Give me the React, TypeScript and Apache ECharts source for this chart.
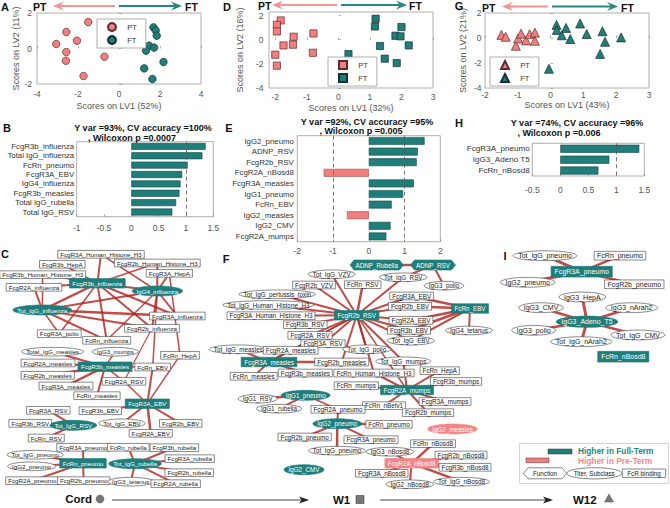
import React, { useEffect, useRef } from 'react';
import * as echarts from 'echarts';

const FONT = '"Liberation Sans", Arial, Helvetica, sans-serif';
const TEAL = '#1f7d7a';
const PINK = '#f27f7f';
const EDGE = '#b3231e';

// ---------- PLS-DA score data ----------
const aPT = [[-1.5, 1.49], [-2.57, 0.93], [-2.05, 0.44], [-3.06, 0.25], [-2.57, -0.2], [-2.59, -0.69], [-0.71, -0.46], [-1.73, -1.55]];
const aFT = [[1.68, 1.19], [1.79, 1.02], [1.84, 0.72], [1.47, 0.16], [1.32, -0.12], [1.71, 0.05], [2.17, -0.76], [1.23, -1.12], [1.63, -1.72]];
const dPT = [[-1.83, 1.6], [-1.95, 1.24], [-1.95, 0.69], [-1.42, 0.25], [-0.79, 0.52], [-1.74, -0.47], [-1.44, -0.41], [-2.0, -1.24], [-1.95, -2.15], [-0.81, -1.08]];
const dFT = [[1.18, 1.74], [1.16, 1.1], [2.0, 1.05], [1.81, 0.33], [1.97, 0.28], [2.23, -0.47], [1.32, -0.52], [0.32, -1.19], [1.47, -1.57], [1.85, -1.93]];
const gPT = [[-1.5, 0.25], [-1.37, 0.1], [-1.06, -0.62], [-0.99, -0.03], [-0.9, 0.35], [-0.75, -0.19], [-0.64, 0.3], [-0.48, 0.43], [-0.48, -0.22]];
const gFT = [[0.18, 1.05], [0.19, 0.65], [0.47, 0.81], [0.34, 0.22], [0.6, -0.08], [0.9, 1.16], [1.1, 0.32], [1.58, 0.54], [1.66, -0.3], [1.51, -1.27], [2.15, 0.05], [-0.05, -2.46]];

const aXTicks = [-4, -2, 0, 2, 4];
const aYTicks = [-2, 0, 2];
const dXTicks = [-2, -1, 0, 1, 2, 3];
const dYTicks = [-4, -2, 0, 2];
const gXTicks = [-2, -1, 0, 1, 2, 3];
const gYTicks = [-4, -2, 0, 2];

// ---------- VIP / loading bars ----------
const bLabels = ['FcgR3b_influenza', 'Total IgG_influenza', 'FcRn_pneumo', 'FcgR3A_EBV', 'IgG4_influenza', 'FcgR3b_measles', 'Total IgG_rubella', 'Total IgG_RSV'];
const bValues = [1.36, 1.3, 1.03, 0.93, 0.9, 0.88, 0.82, 0.75];
const eLabels = ['IgG2_pneumo', 'ADNP_RSV', 'FcgR2b_RSV', 'FcgR2A_nBosd8', 'FcgR3A_measles', 'IgG1_pneumo', 'FcRn_EBV', 'IgG2_measles', 'IgG2_CMV', 'FcgR2A_mumps'];
const eValues = [1.56, 1.37, 1.34, -1.26, 1.26, 0.96, 0.64, -0.61, 0.61, 0.49];
const hLabels = ['FcgR3A_pneumo', 'IgG3_Adeno T5', 'FcRn_nBosd8'];
const hValues = [1.41, 0.875, 0.68];
const refLines = [-1, 1];
const bTitle = ['Y var =93%, CV accuracy =100%', ', Wilcoxon p =0.0007'];
const eTitle = ['Y var =92%, CV accuracy =95%', ', Wilcoxon p =0.005'];
const hTitle = ['Y var =74%, CV accuracy =96%', ', Wilcoxon p =0.006'];

// ---------- co-correlation networks: [name, x, y, shape(r/e/h), fill(w/t/p)] ----------
const cNodes = [
  ['FcgR3A_Human_Histone_H3', 101, 254.3, 'r', 'w'], ['FcgR3b_HepA', 62.3, 264.3, 'r', 'w'],
  ['FcgR2b_Human_Histone_H3', 157.3, 263, 'r', 'w'], ['FcgR3b_Human_Histone_H3', 42.7, 274.7, 'r', 'w'],
  ['FcgR3A_HepA', 169.3, 273.3, 'r', 'w'], ['FcgR2A_influenza', 34, 287.3, 'r', 'w'],
  ['FcgR3b_influenza', 97.3, 283.3, 'r', 't'], ['IgG4_influenza', 157.3, 291, 'e', 't'],
  ['Tot_IgG_influenza', 42.3, 310, 'e', 't'], ['FcgR3A_influenza', 177.3, 316, 'r', 'w'],
  ['FcgR2b_influenza', 152, 328.3, 'r', 'w'], ['FcgR3A_polio', 59.3, 333.7, 'r', 'w'],
  ['FcRn_influenza', 106.7, 340.3, 'r', 'w'], ['Total_IgG_measles', 52.7, 351.7, 'e', 'w'],
  ['IgG3_mumps', 115.3, 351.7, 'e', 'w'], ['FcRn_HepA', 180, 355.3, 'r', 'w'],
  ['FcgR2A_measles', 48, 363, 'r', 'w'], ['FcgR3b_measles', 105, 366.7, 'r', 't'],
  ['FcRn_EBV', 152.7, 367, 'r', 'w'], ['FcgR2b_measles', 47.7, 375.3, 'r', 'w'],
  ['FcgR3A_measles', 66, 386, 'r', 'w'], ['FcgR2A_RSV', 124, 381.3, 'r', 'w'],
  ['FcRn_measles', 97, 395.7, 'r', 'w'], ['FcgR3A_EBV', 147.3, 403.7, 'r', 't'],
  ['FcgR3A_RSV', 48.3, 410.3, 'r', 'w'], ['FcgR3b_EBV', 100.3, 410.7, 'r', 'w'],
  ['FcgR3b_RSV', 30.3, 423.3, 'r', 'w'], ['Tot_IgG_RSV', 73.3, 425.3, 'e', 't'],
  ['Tot_IgG_EBV', 122, 423.3, 'e', 'w'], ['FcgR2b_EBV', 180.7, 423.3, 'r', 'w'],
  ['FcgR2A_EBV', 150.7, 433.3, 'r', 'w'], ['FcRn_RSV', 46.3, 438, 'r', 'w'],
  ['FcgR3A_pneumo', 83.3, 447.3, 'r', 'w'], ['FcRn_rubella', 128.3, 447.3, 'r', 'w'],
  ['FcgR3b_rubella', 174.3, 447.7, 'r', 'w'], ['Tot_IgG_pneumo', 35.3, 454.7, 'e', 'w'],
  ['FcgR3A_rubella', 189.7, 458.7, 'r', 'w'], ['IgG2_pneumo', 31.7, 466.3, 'e', 'w'],
  ['FcRn_pneumo', 83, 463.3, 'r', 't'], ['Tot_IgG_rubella', 135, 463.7, 'e', 't'],
  ['FcgR2b_rubella', 189.3, 472.7, 'r', 'w'], ['FcgR2A_pneumo', 32.3, 480.7, 'r', 'w'],
  ['FcgR2b_pneumo', 83.7, 480.7, 'r', 'w'], ['IgG3_tetanus', 130.7, 481.7, 'e', 'w'],
  ['FcgR2A_rubella', 175.7, 483.7, 'r', 'w'],
];
const cEdges = [
  ['FcgR3b_influenza', 'FcgR3A_Human_Histone_H3', 2], ['FcgR3b_influenza', 'FcgR3b_HepA', 1.8],
  ['FcgR3b_influenza', 'FcgR3b_Human_Histone_H3', 1.5], ['FcgR3b_influenza', 'FcgR2A_influenza', 2],
  ['FcgR3b_influenza', 'Tot_IgG_influenza', 2.5], ['FcgR3b_influenza', 'IgG4_influenza', 2],
  ['FcgR3b_influenza', 'FcgR3A_influenza', 2], ['FcgR3b_influenza', 'FcgR2b_influenza', 2],
  ['FcgR3b_influenza', 'FcRn_influenza', 2], ['FcgR3b_influenza', 'FcgR3A_polio', 1.5],
  ['FcgR3b_influenza', 'FcgR2b_Human_Histone_H3', 1.5], ['IgG4_influenza', 'FcgR2b_Human_Histone_H3', 2],
  ['IgG4_influenza', 'FcgR3A_HepA', 2], ['IgG4_influenza', 'FcgR3A_Human_Histone_H3', 1.5],
  ['IgG4_influenza', 'FcgR3A_influenza', 2], ['IgG4_influenza', 'FcgR2b_influenza', 2],
  ['IgG4_influenza', 'FcRn_influenza', 1.5], ['IgG4_influenza', 'Tot_IgG_influenza', 2],
  ['Tot_IgG_influenza', 'FcgR2A_influenza', 2], ['Tot_IgG_influenza', 'FcgR3A_influenza', 2.5],
  ['Tot_IgG_influenza', 'FcgR2b_influenza', 2], ['Tot_IgG_influenza', 'FcRn_influenza', 2],
  ['Tot_IgG_influenza', 'FcgR3A_polio', 1.5], ['Tot_IgG_influenza', 'FcgR3b_Human_Histone_H3', 1.5],
  ['FcgR3A_HepA', 'FcRn_HepA', 1.5], ['IgG4_influenza', 'FcRn_EBV', 1.5], ['FcgR2b_influenza', 'FcgR2A_RSV', 1.2],
  ['FcgR3b_measles', 'Total_IgG_measles', 2], ['FcgR3b_measles', 'IgG3_mumps', 1.5],
  ['FcgR3b_measles', 'FcgR2A_measles', 2], ['FcgR3b_measles', 'FcgR2b_measles', 2.5],
  ['FcgR3b_measles', 'FcgR3A_measles', 2.5], ['FcgR3b_measles', 'FcRn_measles', 2],
  ['FcgR3b_measles', 'FcgR2A_RSV', 1.5], ['FcgR3b_measles', 'FcRn_EBV', 1.5],
  ['FcgR3A_EBV', 'FcgR3b_EBV', 2], ['FcgR3A_EBV', 'Tot_IgG_EBV', 2], ['FcgR3A_EBV', 'FcgR2b_EBV', 2],
  ['FcgR3A_EBV', 'FcgR2A_EBV', 2.5], ['FcgR3A_EBV', 'FcgR2A_RSV', 1.5], ['FcgR3A_EBV', 'FcRn_EBV', 2],
  ['FcgR3A_EBV', 'FcRn_HepA', 1.5],
  ['Tot_IgG_RSV', 'FcgR3A_RSV', 2], ['Tot_IgG_RSV', 'FcgR3b_RSV', 2], ['Tot_IgG_RSV', 'FcRn_RSV', 2],
  ['FcRn_pneumo', 'FcgR3A_pneumo', 2], ['FcRn_pneumo', 'Tot_IgG_pneumo', 2], ['FcRn_pneumo', 'IgG2_pneumo', 2],
  ['FcRn_pneumo', 'FcgR2A_pneumo', 2], ['FcRn_pneumo', 'FcgR2b_pneumo', 2],
  ['Tot_IgG_rubella', 'FcRn_rubella', 2], ['Tot_IgG_rubella', 'FcgR3b_rubella', 2],
  ['Tot_IgG_rubella', 'FcgR3A_rubella', 2], ['Tot_IgG_rubella', 'FcgR2b_rubella', 2],
  ['Tot_IgG_rubella', 'FcgR2A_rubella', 2], ['Tot_IgG_rubella', 'IgG3_tetanus', 2],
];

const fNodes = [
  ['ADNP_Rubella', 376.7, 265, 'h', 't'], ['ADNP_RSV', 433, 265, 'h', 't'],
  ['Tot_IgG_VZV', 331.7, 274.3, 'e', 'w'], ['Tot_IgG_RSV', 403.3, 277.3, 'e', 'w'],
  ['IgG3_polio', 444, 285.7, 'e', 'w'], ['FcgR2b_VZV', 314, 285, 'r', 'w'],
  ['FcRn_RSV', 362.7, 284.7, 'r', 'w'], ['Tot_IgG_pertussis_toxin', 277.3, 294.3, 'e', 'w'],
  ['FcgR3A_EBV', 411.7, 296, 'r', 'w'], ['Tot_IgG_Human_Histone_H3', 268.3, 305, 'e', 'w'],
  ['FcgR2b_EBV', 410, 306.3, 'r', 'w'], ['FcRn_EBV', 470, 308.5, 'r', 't'],
  ['FcgR2b_RSV', 356.7, 315.3, 'r', 't'], ['FcgR3A_Human_Histone_H3', 271, 315.7, 'r', 'w'],
  ['FcgR2A_EBV', 411, 320.3, 'r', 'w'], ['FcgR3b_RSV', 305.3, 324.7, 'r', 'w'],
  ['FcgR3b_EBV', 409, 330.3, 'r', 'w'], ['IgG4_tetanus', 469, 330.5, 'e', 'w'],
  ['FcgR2A_RSV', 310, 335.3, 'r', 'w'], ['Tot_IgG_EBV', 410.7, 340.7, 'e', 'w'],
  ['FcgR3A_RSV', 323, 343.7, 'r', 'w'], ['Tot_IgG_measles', 238.3, 349.3, 'e', 'w'],
  ['FcgR2A_measles', 290.7, 350.3, 'r', 'w'], ['Tot_IgG_polio', 366.7, 349.3, 'e', 'w'],
  ['FcgR3A_measles', 269, 362, 'r', 't'], ['FcgR2b_measles', 341.7, 362, 'r', 'w'],
  ['Tot_IgG_mumps', 403.3, 361.3, 'e', 'w'], ['FcRn_measles', 253.7, 376.3, 'r', 'w'],
  ['FcgR3b_measles', 305.3, 373, 'r', 'w'], ['FcRn_Human_Histone_H3', 374, 373, 'r', 'w'],
  ['FcRn_HepA', 439.7, 370.7, 'r', 'w'], ['FcRn_mumps', 356.3, 385.7, 'r', 'w'],
  ['FcgR3b_mumps', 456, 381.5, 'r', 'w'], ['FcgR2A_mumps', 407, 390, 'r', 't'],
  ['IgG1_pneumo', 305.7, 395.3, 'e', 't'], ['IgG1_RSV', 257.7, 398.7, 'e', 'w'],
  ['FcgR3A_mumps', 445, 401.5, 'r', 'w'], ['FcRn_nBetv1', 384, 405.7, 'r', 'w'],
  ['IgG1_rubella', 279, 408.7, 'e', 'w'], ['FcgR2A_pneumo', 338, 409.3, 'r', 'w'],
  ['FcgR2b_mumps', 428, 412.7, 'r', 'w'], ['IgG2_pneumo', 337.3, 423.7, 'e', 't'],
  ['FcRn_pneumo', 389, 424.3, 'r', 'w'], ['IgG2_measles', 452.5, 429, 'e', 'p'],
  ['FcgR2b_pneumo', 304.7, 437, 'r', 'w'], ['FcgR3A_pneumo', 371, 439.7, 'r', 'w'],
  ['FcRn_nBosd8', 433, 443.7, 'r', 'w'], ['Tot_IgG_pneumo', 337, 450.7, 'e', 'w'],
  ['IgG3_nBosd8', 390, 451.7, 'e', 'w'], ['FcgR2b_nBosd8', 461, 455, 'r', 'w'],
  ['FcgR2A_nBosd8', 411.7, 463.3, 'r', 'p'], ['FcgR3b_nBosd8', 465, 467.3, 'r', 'w'],
  ['IgG2_CMV', 304, 469.7, 'e', 't'], ['FcgR3A_nBosd8', 381.7, 473.3, 'r', 'w'],
  ['Tot_IgG_nBosd8', 461.5, 481.7, 'e', 'w'], ['IgG2_nBosd8', 409.7, 484.3, 'e', 'w'],
];
const fEdges = [
  ['ADNP_Rubella', 'ADNP_RSV', 2.5], ['ADNP_RSV', 'IgG3_polio', 2], ['ADNP_RSV', 'Tot_IgG_RSV', 2],
  ['FcgR2b_RSV', 'Tot_IgG_VZV', 2], ['FcgR2b_RSV', 'FcgR2b_VZV', 2], ['FcgR2b_RSV', 'FcRn_RSV', 2.5],
  ['FcgR2b_RSV', 'Tot_IgG_RSV', 2], ['FcgR2b_RSV', 'Tot_IgG_pertussis_toxin', 2],
  ['FcgR2b_RSV', 'Tot_IgG_Human_Histone_H3', 2], ['FcgR2b_RSV', 'FcgR3A_Human_Histone_H3', 2],
  ['FcgR2b_RSV', 'FcgR3b_RSV', 2], ['FcgR2b_RSV', 'FcgR2A_RSV', 2], ['FcgR2b_RSV', 'FcgR3A_RSV', 2],
  ['FcgR2b_RSV', 'FcgR3A_EBV', 2], ['FcgR2b_RSV', 'FcgR2b_EBV', 2], ['FcgR2b_RSV', 'FcgR2A_EBV', 2],
  ['FcgR2b_RSV', 'FcgR3b_EBV', 2], ['FcgR2b_RSV', 'Tot_IgG_EBV', 2], ['FcgR2b_RSV', 'Tot_IgG_polio', 2],
  ['FcgR2b_RSV', 'Tot_IgG_mumps', 2], ['FcgR2b_RSV', 'FcgR2b_measles', 2],
  ['FcgR2b_RSV', 'FcRn_Human_Histone_H3', 2], ['FcgR2b_RSV', 'FcgR2A_measles', 1.5],
  ['FcgR2b_RSV', 'FcgR3A_measles', 1.5], ['FcgR2b_RSV', 'FcgR2A_mumps', 1.5],
  ['FcRn_EBV', 'FcgR3A_EBV', 2.5], ['FcRn_EBV', 'FcgR2b_EBV', 2.5], ['FcRn_EBV', 'FcgR2A_EBV', 2.5],
  ['FcRn_EBV', 'FcgR3b_EBV', 2.5], ['FcRn_EBV', 'Tot_IgG_EBV', 2], ['FcRn_EBV', 'IgG4_tetanus', 2],
  ['FcgR3A_measles', 'Tot_IgG_measles', 2], ['FcgR3A_measles', 'FcgR2A_measles', 2],
  ['FcgR3A_measles', 'FcgR2b_measles', 2.5], ['FcgR3A_measles', 'FcRn_measles', 2],
  ['FcgR3A_measles', 'FcgR3b_measles', 2],
  ['FcgR2A_mumps', 'FcRn_mumps', 2], ['FcgR2A_mumps', 'FcgR3b_mumps', 2], ['FcgR2A_mumps', 'FcgR3A_mumps', 2],
  ['FcgR2A_mumps', 'FcgR2b_mumps', 2], ['FcgR2A_mumps', 'FcRn_nBetv1', 2], ['FcgR2A_mumps', 'Tot_IgG_mumps', 2],
  ['FcgR2A_mumps', 'FcRn_HepA', 2], ['FcgR2A_mumps', 'FcRn_Human_Histone_H3', 2],
  ['IgG1_pneumo', 'IgG1_RSV', 2.5], ['IgG1_pneumo', 'IgG1_rubella', 2], ['IgG1_pneumo', 'FcgR2A_pneumo', 1.5],
  ['IgG2_pneumo', 'FcgR2A_pneumo', 2], ['IgG2_pneumo', 'FcRn_pneumo', 2.5], ['IgG2_pneumo', 'FcgR2b_pneumo', 2],
  ['IgG2_pneumo', 'FcgR3A_pneumo', 2], ['IgG2_pneumo', 'Tot_IgG_pneumo', 2.5],
  ['FcgR2A_nBosd8', 'FcRn_nBosd8', 2.5], ['FcgR2A_nBosd8', 'IgG3_nBosd8', 2],
  ['FcgR2A_nBosd8', 'FcgR2b_nBosd8', 2.5], ['FcgR2A_nBosd8', 'FcgR3b_nBosd8', 2.5],
  ['FcgR2A_nBosd8', 'Tot_IgG_nBosd8', 2.5], ['FcgR2A_nBosd8', 'FcgR3A_nBosd8', 2],
  ['FcgR2A_nBosd8', 'IgG2_nBosd8', 2],
];

const iNodes = [
  ['Tot_IgG_pneumo', 545, 255.7, 'e', 'w'], ['FcRn_pneumo', 620, 255.7, 'r', 'w'],
  ['FcgR3A_pneumo', 581.7, 271.7, 'r', 't'], ['IgG2_pneumo', 527.7, 282.3, 'e', 'w'],
  ['FcgR2b_pneumo', 634.3, 284.3, 'r', 'w'], ['IgG3_HepA', 582.3, 297, 'e', 'w'],
  ['IgG3_CMV', 541, 307.7, 'e', 'w'], ['IgG3_nArah2', 631.7, 307.7, 'e', 'w'],
  ['IgG3_Adeno_T5', 587, 321.7, 'e', 't'], ['IgG3_polio', 533.7, 330.3, 'e', 'w'],
  ['Tot_IgG_CMV', 638, 335, 'e', 'w'], ['Tot_IgG_nArah2', 581.3, 341.7, 'e', 'w'],
  ['FcRn_nBosd8', 623.3, 356.7, 'r', 't'],
];
const iEdges = [
  ['FcgR3A_pneumo', 'Tot_IgG_pneumo', 3], ['FcgR3A_pneumo', 'FcRn_pneumo', 2.5],
  ['FcgR3A_pneumo', 'IgG2_pneumo', 3], ['FcgR3A_pneumo', 'FcgR2b_pneumo', 2.5],
  ['IgG3_Adeno_T5', 'IgG3_HepA', 3], ['IgG3_Adeno_T5', 'IgG3_CMV', 2.5], ['IgG3_Adeno_T5', 'IgG3_nArah2', 2.5],
  ['IgG3_Adeno_T5', 'IgG3_polio', 2.5], ['IgG3_Adeno_T5', 'Tot_IgG_CMV', 2.5], ['IgG3_Adeno_T5', 'Tot_IgG_nArah2', 3],
];

// ---------- helpers ----------
let measureCtx: any = null;
function textW(s: string, fs: number, weight = 'normal') {
  if (!measureCtx) measureCtx = document.createElement('canvas').getContext('2d');
  measureCtx.font = `${weight} ${fs}px ${FONT}`;
  return measureCtx.measureText(s).width;
}

const networks = [
  { nodes: cNodes, edges: cEdges, fs: 6.2, k: 1 },
  { nodes: fNodes, edges: fEdges, fs: 6.3, k: 1 },
  { nodes: iNodes, edges: iEdges, fs: 7.0, k: 1.13 },
];
const allNodes: any[] = [];
const edgeData: number[][] = [];
networks.forEach((net) => {
  const pos: any = {};
  net.nodes.forEach((n: any) => {
    pos[n[0]] = [n[1], n[2]];
    allNodes.push({ name: n[0], x: n[1], y: n[2], shape: n[3], fill: n[4], fs: net.fs, k: net.k });
  });
  net.edges.forEach((e: any) => {
    const a = pos[e[0]];
    const b = pos[e[1]];
    if (a && b) edgeData.push([a[0], a[1], b[0], b[1], e[2]]);
  });
});

function renderNode(params: any, api: any) {
  const n = allNodes[params.dataIndex];
  const c = api.coord([api.value(0), api.value(1)]);
  const cx = c[0];
  const cy = c[1];
  const k = n.k;
  const w0 = textW(n.name, n.fs);
  const filled = n.fill !== 'w';
  const fill = n.fill === 't' ? TEAL : n.fill === 'p' ? '#f48585' : '#fff';
  const stroke = filled ? fill : '#3a3a3a';
  let shape: any;
  if (n.shape === 'r') {
    const w = w0 + (filled ? 6 : 5) * k;
    const h = (filled ? 9.5 : 7.7) * k;
    shape = { type: 'rect', shape: { x: cx - w / 2, y: cy - h / 2, width: w, height: h }, style: { fill, stroke, lineWidth: 0.6 } };
  } else if (n.shape === 'e') {
    const w = w0 + 9 * k;
    const h = (filled ? 10 : 8.7) * k;
    shape = { type: 'ellipse', shape: { cx, cy, rx: w / 2, ry: h / 2 }, style: { fill, stroke, lineWidth: 0.6 } };
  } else {
    const w = w0 + 11 * k;
    const h = 10 * k;
    const d = 4 * k;
    shape = {
      type: 'polygon',
      shape: { points: [[cx - w / 2, cy], [cx - w / 2 + d, cy - h / 2], [cx + w / 2 - d, cy - h / 2], [cx + w / 2, cy], [cx + w / 2 - d, cy + h / 2], [cx - w / 2 + d, cy + h / 2]] },
      style: { fill, stroke, lineWidth: 0.6 },
    };
  }
  return {
    type: 'group',
    children: [
      shape,
      { type: 'text', x: cx, y: cy, style: { text: n.name, fontSize: n.fs, fontFamily: FONT, fill: filled ? '#fff' : '#222', align: 'center', verticalAlign: 'middle' } },
    ],
  };
}

function renderEdge(params: any, api: any) {
  const p1 = api.coord([api.value(0), api.value(1)]);
  const p2 = api.coord([api.value(2), api.value(3)]);
  return { type: 'line', shape: { x1: p1[0], y1: p1[1], x2: p2[0], y2: p2[1] }, style: { stroke: EDGE, lineWidth: api.value(4), opacity: 0.82 } };
}

const scatterPanels = [
  { grid: { left: 37, top: 13, width: 164, height: 71 }, xr: [-4, 4], yr: [-2, 2], xt: aXTicks, yt: aYTicks, xName: 'Scores on LV1 (52%)', yName: 'Scores on LV2 (11%)', xGap: 17.5, yGap: 15.8, xM: 5, yM: 5, sym: 'circle', size: 7.5, pt: aPT, ft: aFT, lg: [97, 19] },
  { grid: { left: 269, top: 12, width: 164, height: 76 }, xr: [-2.2, 3], yr: [-4, 2.3], xt: dXTicks, yt: dYTicks, xName: 'Scores on LV1 (32%)', yName: 'Scores on LV2 (16%)', xGap: 15.5, yGap: 25, xM: 4, yM: 5.5, sym: 'rect', size: 7.2, pt: dPT, ft: dFT, lg: [328, 57] },
  { grid: { left: 485, top: 13, width: 164, height: 75 }, xr: [-2, 3], yr: [-4, 2], xt: gXTicks, yt: gYTicks, xName: 'Scores on LV1 (43%)', yName: 'Scores on LV2 (21%)', xGap: 12.5, yGap: 18, xM: 2.5, yM: 3.5, sym: 'triangle', size: 9, pt: gPT, ft: gFT, lg: [490, 57] },
];

const barPanels = [
  { grid: { left: 76.7, top: 141.7, width: 136.6, height: 75 }, xr: [-1, 1.5], interval: 0.5, labels: bLabels, values: bValues, xM: 7, yM: 2.5, lfs: 7.8 },
  { grid: { left: 297.3, top: 135.7, width: 143, height: 106 }, xr: [-2, 2], interval: 1, labels: eLabels, values: eValues, xM: 4.5, yM: 3.5, lfs: 7.8 },
  { grid: { left: 532.3, top: 143.3, width: 112, height: 32.7 }, xr: [-0.5, 1.5], interval: 0.5, labels: hLabels, values: hValues, xM: 9, yM: 2.5, lfs: 8.1 },
];

function buildOption() {
  const grid: any[] = [];
  const xAxis: any[] = [];
  const yAxis: any[] = [];
  const series: any[] = [];
  const legend: any[] = [];
  const frame = { show: true, borderColor: '#9a9a9a', borderWidth: 0.8, backgroundColor: 'transparent', outerBoundsMode: 'none', containLabel: false };
  const tickStyle = { color: '#777', width: 0.6 };

  scatterPanels.forEach((p, gi) => {
    grid.push({ ...p.grid, ...frame });
    xAxis.push({
      type: 'value', gridIndex: gi, min: p.xr[0], max: p.xr[1],
      name: p.xName, nameLocation: 'middle', nameGap: p.xGap,
      nameTextStyle: { fontSize: 9, color: '#555', fontFamily: FONT },
      axisLine: { show: false }, splitLine: { show: false },
      axisTick: { show: true, inside: true, length: 2.5, lineStyle: tickStyle, customValues: p.xt },
      axisLabel: { customValues: p.xt, fontSize: 8.5, color: '#555', fontFamily: FONT, margin: p.xM },
    });
    yAxis.push({
      type: 'value', gridIndex: gi, min: p.yr[0], max: p.yr[1],
      name: p.yName, nameLocation: 'middle', nameGap: p.yGap, nameRotate: 90,
      nameTextStyle: { fontSize: 9, color: '#555', fontFamily: FONT },
      axisLine: { show: false }, splitLine: { show: false },
      axisTick: { show: true, inside: true, length: 2.5, lineStyle: tickStyle, customValues: p.yt },
      axisLabel: { customValues: p.yt, fontSize: 8.5, color: '#555', fontFamily: FONT, margin: p.yM },
    });
    series.push({
      type: 'scatter', name: 'PT', xAxisIndex: gi, yAxisIndex: gi, data: p.pt, symbol: p.sym, symbolSize: p.size,
      itemStyle: { color: PINK, borderColor: '#5a2e2e', borderWidth: 0.7, opacity: 1 }, z: 3,
    });
    series.push({
      type: 'scatter', name: 'FT', xAxisIndex: gi, yAxisIndex: gi, data: p.ft, symbol: p.sym, symbolSize: p.size,
      itemStyle: { color: TEAL, borderColor: '#1c2e2e', borderWidth: 0.7, opacity: 1 }, z: 3,
    });
    legend.push({
      show: true, left: p.lg[0], top: p.lg[1], orient: 'vertical', selectedMode: false,
      data: [{ name: 'PT', icon: p.sym }, { name: 'FT', icon: p.sym }],
      itemWidth: 8, itemHeight: 8, itemGap: 3, padding: [3, 9, 3, 10],
      borderColor: '#9a9a9a', borderWidth: 0.8, backgroundColor: '#fff',
      formatter: '   {name}', textStyle: { fontSize: 7.5, color: '#333', fontFamily: FONT },
    });
  });

  barPanels.forEach((p, i) => {
    const gi = 3 + i;
    grid.push({ ...p.grid, ...frame });
    xAxis.push({
      type: 'value', gridIndex: gi, min: p.xr[0], max: p.xr[1], interval: p.interval,
      axisLine: { show: false }, splitLine: { show: false },
      axisTick: { show: true, inside: true, length: 2.5, lineStyle: tickStyle },
      axisLabel: { fontSize: 8.5, color: '#555', fontFamily: FONT, margin: p.xM },
    });
    yAxis.push({
      type: 'category', gridIndex: gi, data: p.labels, inverse: true,
      axisLine: { show: false }, axisTick: { show: false }, splitLine: { show: false },
      axisLabel: { interval: 0, fontSize: p.lfs, color: '#333', fontFamily: FONT, margin: p.yM },
    });
    series.push({
      type: 'bar', name: 'bars' + i, xAxisIndex: gi, yAxisIndex: gi, barWidth: '74%',
      data: p.values.map((v) => ({ value: v, itemStyle: { color: v >= 0 ? TEAL : PINK, borderColor: v >= 0 ? '#0f4644' : '#9a4c4c', borderWidth: 0.6 } })),
      markLine: {
        silent: true, symbol: 'none', label: { show: false },
        lineStyle: { type: [4, 3], color: '#555', width: 0.8 },
        data: refLines.filter((v) => v > p.xr[0] && v < p.xr[1]).map((v) => ({ xAxis: v })),
      },
      z: 3,
    });
  });

  // network canvas grid (index 6)
  grid.push({ left: 0, top: 0, width: 670, height: 508, show: false, outerBoundsMode: 'none' });
  xAxis.push({ type: 'value', gridIndex: 6, min: 0, max: 670, show: false });
  yAxis.push({ type: 'value', gridIndex: 6, min: 0, max: 508, inverse: true, show: false });
  series.push({
    type: 'custom', name: 'edges', coordinateSystem: 'cartesian2d', xAxisIndex: 6, yAxisIndex: 6,
    silent: true, clip: false, data: edgeData, encode: { x: [0, 2], y: [1, 3] }, renderItem: renderEdge, z: 2,
  });
  series.push({
    type: 'custom', name: 'nodes', coordinateSystem: 'cartesian2d', xAxisIndex: 6, yAxisIndex: 6,
    silent: true, clip: false, data: allNodes.map((n) => [n.x, n.y]), renderItem: renderNode, z: 4,
  });

  // ---------- graphic annotations ----------
  const g: any[] = [];
  const txt = (text: string, x: number, y: number, o: any = {}) =>
    g.push({ type: 'text', x, y, z: 10, style: { text, fontFamily: FONT, fontSize: o.fs || 10.5, fontWeight: o.fw || 'bold', fill: o.fill || '#111', align: o.align || 'center', verticalAlign: 'middle' } });

  [['A', 5, 7], ['D', 227, 7], ['G', 459, 6], ['B', 7, 128], ['E', 229, 128], ['H', 459, 123], ['C', 5, 254], ['F', 226, 259], ['I', 505, 256]].forEach((l: any) => txt(l[0], l[1], l[2], { fs: 11 }));

  const header = (y: number, ptX: number, pinkTail: number, pinkTip: number, tealTail: number, tealTip: number, ftX: number) => {
    txt('PT', ptX, y + 1, { align: 'left', fs: 10.5 });
    txt('FT', ftX, y + 1, { align: 'left', fs: 10.5 });
    g.push({ type: 'line', shape: { x1: pinkTail, y1: y, x2: pinkTip + 3, y2: y }, style: { stroke: '#f49494', lineWidth: 2 } });
    g.push({ type: 'polygon', shape: { points: [[pinkTip, y], [pinkTip + 11, y - 4.5], [pinkTip + 7, y], [pinkTip + 11, y + 4.5]] }, style: { fill: '#f49494' } });
    g.push({ type: 'line', shape: { x1: tealTail, y1: y, x2: tealTip - 3, y2: y }, style: { stroke: '#248783', lineWidth: 2 } });
    g.push({ type: 'polygon', shape: { points: [[tealTip, y], [tealTip - 11, y - 4.5], [tealTip - 7, y], [tealTip - 11, y + 4.5]] }, style: { fill: '#248783' } });
  };
  header(6, 33, 115, 53, 119, 182, 185);
  header(5, 258, 337, 272, 341, 407, 409);
  header(6.5, 482, 548, 502, 552, 618, 621);

  const titleLine = (s: string, x: number, y: number) => txt(s, x, y, { fs: 9 });
  titleLine(bTitle[0], 143, 128.2); titleLine(bTitle[1], 132, 137.8);
  titleLine(eTitle[0], 367, 121.8); titleLine(eTitle[1], 361, 131.4);
  titleLine(hTitle[0], 577, 123); titleLine(hTitle[1], 559, 132.6);

  // timeline
  const ty = 500;
  txt('Cord', 92, 499, { align: 'right', fs: 11.5 });
  g.push({ type: 'circle', shape: { cx: 100, cy: 499, r: 4 }, style: { fill: '#777', stroke: '#555', lineWidth: 0.5 } });
  g.push({ type: 'line', shape: { x1: 112, y1: ty, x2: 303, y2: ty }, style: { stroke: '#333', lineWidth: 0.9 } });
  g.push({ type: 'polygon', shape: { points: [[309, ty], [299, ty - 3.5], [301.5, ty], [299, ty + 3.5]] }, style: { fill: '#222' } });
  txt('W1', 333, 499.5, { align: 'left', fs: 11.5 });
  g.push({ type: 'rect', shape: { x: 356, y: 495.5, width: 8, height: 8 }, style: { fill: '#777', stroke: '#444', lineWidth: 0.6 } });
  g.push({ type: 'line', shape: { x1: 380, y1: ty, x2: 547, y2: ty }, style: { stroke: '#333', lineWidth: 0.9 } });
  g.push({ type: 'polygon', shape: { points: [[553, ty], [543, ty - 3.5], [545.5, ty], [543, ty + 3.5]] }, style: { fill: '#222' } });
  txt('W12', 573, 499.5, { align: 'left', fs: 11.5 });
  g.push({ type: 'polygon', shape: { points: [[609, 494], [613.5, 502], [604.5, 502]] }, style: { fill: '#777', stroke: '#555', lineWidth: 0.5 } });

  // network legend
  g.push({ type: 'rect', z: 9, shape: { x: 519.5, y: 443.5, width: 149, height: 40 }, style: { fill: '#fff', stroke: '#c8c8c8', lineWidth: 0.8 } });
  g.push({ type: 'rect', z: 10, shape: { x: 548, y: 449, width: 24, height: 5 }, style: { fill: TEAL, stroke: '#333', lineWidth: 0.5 } });
  g.push({ type: 'rect', z: 10, shape: { x: 526, y: 458, width: 23, height: 4.7 }, style: { fill: PINK, stroke: '#333', lineWidth: 0.5 } });
  txt('Higher in Full-Term', 578, 451.3, { align: 'left', fs: 8.3, fill: '#248783' });
  txt('Higher in Pre-Term', 578, 461, { align: 'left', fs: 8.3, fill: '#f28a8a' });
  g.push({ type: 'polygon', z: 10, shape: { points: [[523.3, 473.3], [528, 467.8], [562, 467.8], [566.7, 473.3], [562, 478.8], [528, 478.8]] }, style: { fill: '#fff', stroke: '#333', lineWidth: 0.6 } });
  g.push({ type: 'ellipse', z: 10, shape: { cx: 594.2, cy: 473.3, rx: 27.5, ry: 5.6 }, style: { fill: '#fff', stroke: '#333', lineWidth: 0.6 } });
  g.push({ type: 'rect', z: 10, shape: { x: 622.3, y: 469, width: 43.4, height: 8.4 }, style: { fill: '#fff', stroke: '#333', lineWidth: 0.6 } });
  txt('Function', 545, 473.5, { fs: 6.3, fw: 'normal', fill: '#222' });
  txt('Titer, Subclass', 594.2, 473.5, { fs: 6.3, fw: 'normal', fill: '#222' });
  txt('FcR binding', 644, 473.5, { fs: 6.3, fw: 'normal', fill: '#222' });

  return {
    animation: false,
    backgroundColor: '#fff',
    textStyle: { fontFamily: FONT },
    grid, xAxis, yAxis, series, legend,
    graphic: { elements: g },
  };
}

export default function App() {
  const ref = useRef<HTMLDivElement>(null);
  useEffect(() => {
    const chart = echarts.init(ref.current as HTMLDivElement, null, { renderer: 'svg' });
    chart.setOption(buildOption() as any);
    return () => chart.dispose();
  }, []);
  return <div ref={ref} style={{ position: 'absolute', left: 0, top: 0, width: 670, height: 508, background: '#fff' }} />;
}
